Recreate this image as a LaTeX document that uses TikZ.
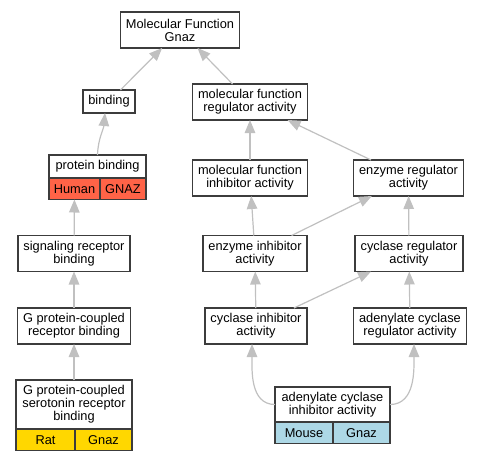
\documentclass[tikz,border=0pt]{standalone}
\usepackage{fontspec}
\setmainfont{Liberation Sans}
\usepackage{xcolor}
\usepackage{tikz}
\usetikzlibrary{arrows.meta}
\definecolor{frame}{HTML}{3C3C3C}
\definecolor{edgegray}{HTML}{C0C0C0}
\definecolor{human}{HTML}{FF6347}
\definecolor{rat}{HTML}{FFD700}
\definecolor{mouse}{HTML}{ADD8E6}
\tikzset{
  term/.style={draw=frame, fill=white, line width=1.5pt, outer sep=0pt,
    inner xsep=5.5pt, inner ysep=0pt, align=center, minimum height=36pt,
    font=\fontsize{12.8}{13}\selectfont},
  oneline/.style={term, minimum height=23pt},
  cell/.style={draw=frame, fill=#1, line width=1.5pt, outer sep=0pt,
    inner sep=0pt, minimum height=21.5pt, font=\fontsize{12.8}{13}\selectfont},
  isa/.style={draw=edgegray, line width=1.2pt, -{Triangle[length=13pt,width=10.5pt]}}
}

\begin{document}
\begin{tikzpicture}[x=1pt,y=1pt]
  \useasboundingbox (0,0) rectangle (484,-461);

  % GO terms
  \node[term] (mf) at (180,-30) {Molecular Function\\Gnaz};
  \node[oneline] (bind) at (109,-101.5) {binding};
  \node[term] (mfra) at (250,-102) {molecular function\\regulator activity};
  \node[oneline, minimum width=97pt] (pb) at (97.5,-166.5) {protein binding};
  \node[term] (mfia) at (250,-178) {molecular function\\inhibitor activity};
  \node[term] (era) at (408.5,-178) {enzyme regulator\\activity};
  \node[term] (srb) at (74,-253.5) {signaling receptor\\binding};
  \node[term] (eia) at (255,-253.5) {enzyme inhibitor\\activity};
  \node[term] (cra) at (409,-253.5) {cyclase regulator\\activity};
  \node[term] (gpcrb) at (74,-326) {G protein-coupled\\receptor binding};
  \node[term] (cia) at (256,-326) {cyclase inhibitor\\activity};
  \node[term] (ara) at (410,-326) {adenylate cyclase\\regulator activity};
  \node[term, minimum width=116pt, minimum height=49pt] (ser) at (74,-404.5)
    {G protein-coupled\\serotonin receptor\\binding};
  \node[term, minimum width=115pt, minimum height=35pt] (acia) at (332.5,-404.5)
    {adenylate cyclase\\inhibitor activity};

  % species cells
  \node[cell=human, minimum width=51pt, anchor=north west] (pbHuman) at (pb.south west) {Human};
  \node[cell=human, minimum width=46pt, anchor=north east] (pbGNAZ) at (pb.south east) {GNAZ};
  \node[cell=rat, minimum width=59pt, anchor=north west] (serRat) at (ser.south west) {Rat};
  \node[cell=rat, minimum width=57pt, anchor=north east] (serGnaz) at (ser.south east) {Gnaz};
  \node[cell=mouse, minimum width=58pt, anchor=north west] (aciaMouse) at (acia.south west) {Mouse};
  \node[cell=mouse, minimum width=57pt, anchor=north east] (aciaGnaz) at (acia.south east) {Gnaz};

  % is-a edges
  \draw[isa] (bind) -- (mf);
  \draw[isa] (mfra) -- (mf);
  \draw[isa] (pb.north) to[out=88,in=-95] ([xshift=-4pt]bind.south);
  \draw[isa] (mfia) -- (mfra);
  \draw[isa] (era) -- (mfra);
  \draw[isa] (srb) -- (pbHuman);
  \draw[isa] (eia) -- (mfia);
  \draw[isa] (eia) -- (era);
  \draw[isa] (cra) -- (era);
  \draw[isa] (gpcrb) -- (srb);
  \draw[isa] (cia) -- (eia);
  \draw[isa] (cia) -- (cra);
  \draw[isa] (ara) -- (cra);
  \draw[isa] (ser) -- (gpcrb);
  \draw[isa] (acia.west) to[out=180,in=-90] ([xshift=-4pt]cia.south);
  \draw[isa] (acia.east) to[out=0,in=-90] ([xshift=4pt]ara.south);
\end{tikzpicture}
\end{document}
